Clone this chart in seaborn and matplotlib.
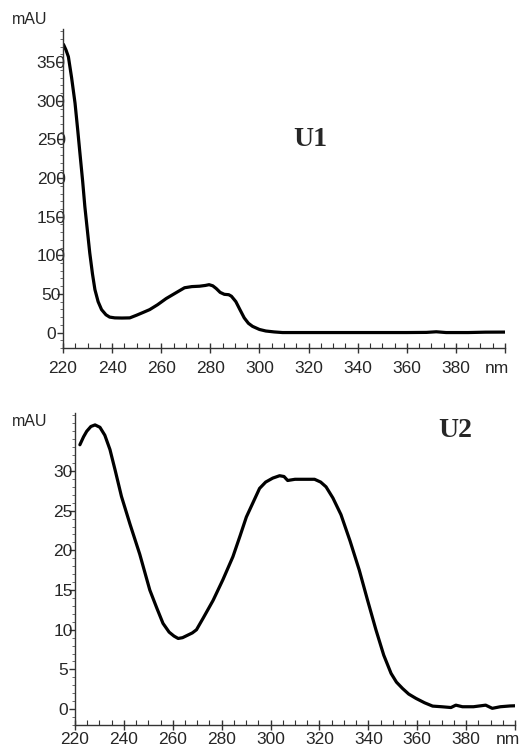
import numpy as np
import pandas as pd
import matplotlib
matplotlib.use("Agg")
import matplotlib.pyplot as plt
import matplotlib.transforms as mtransforms
import seaborn as sns
from matplotlib.ticker import MultipleLocator

# ---- data ----
u1_nm = [220.2, 221.2, 222.2, 223.5, 224.9, 226.0, 226.9, 228.0, 228.9, 230.0, 230.9, 232.0,
         233.0, 234.3, 235.7, 237.5, 239.0, 241.1, 244.0, 247.2, 250.0, 252.6, 255.3, 258.5,
         262.0, 266.8, 269.5, 272.5, 275.6, 278.0, 279.5, 281.0, 282.4, 284.0, 285.7, 287.5,
         288.6, 290.4, 292.0, 293.8, 295.5, 297.2, 300.0, 302.6, 306.0, 309.4, 320, 340,
         360, 368, 372, 376, 385, 392, 400]
u1_mau = [373, 366, 357, 330, 297, 262, 232, 196, 163, 130, 103, 76,
          55.6, 40, 29.7, 23, 20, 19, 18.8, 19, 22.5, 26, 29.7, 36,
          44, 53, 58, 59.5, 60, 61, 62, 60.5, 57, 52, 49.5, 49,
          47, 40, 30, 19, 12, 8, 4, 2, 0.8, 0, 0, 0,
          0, 0.2, 1, 0, 0, 0.5, 0.6]

u2_nm = [222.0, 223.5, 224.8, 226.5, 228.2, 230.2, 232.2, 234.3, 236.5, 239.0, 242.5, 246.5,
         250.6, 253.5, 256.0, 258.5, 260.5, 262.2, 264.0, 266.0, 268.0, 269.7, 272.5, 276.5,
         280.5, 284.6, 287.5, 290.1, 292.8, 295.5, 298.0, 300.9, 303.7, 305.5, 307.0, 310.0,
         318.0, 320.5, 322.7, 325.5, 328.8, 332.5, 336.3, 339.7, 343.1, 346.3, 349.3, 351.5,
         354.0, 356.5, 359.5, 363.0, 366.3, 370.0, 373.8, 375.8, 378.5, 383.0, 388.0, 390.7,
         394.0, 398.0, 400.0]
u2_mau = [33.3, 34.3, 35.0, 35.6, 35.8, 35.5, 34.5, 32.7, 30.0, 26.8, 23.3, 19.5,
          15.0, 12.7, 10.8, 9.7, 9.2, 8.9, 9.0, 9.3, 9.6, 10.0, 11.5, 13.7,
          16.3, 19.2, 21.8, 24.2, 26.0, 27.8, 28.6, 29.1, 29.4, 29.3, 28.8, 28.95,
          28.95, 28.6, 28.0, 26.6, 24.5, 21.2, 17.5, 13.7, 10.0, 6.8, 4.5, 3.4,
          2.6, 1.9, 1.35, 0.8, 0.38, 0.3, 0.2, 0.5, 0.3, 0.3, 0.5, 0.1,
          0.3, 0.4, 0.42]

x_ticks = [220, 240, 260, 280, 300, 320, 340, 360, 380, 400]
x_ticklabels = ["220", "240", "260", "280", "300", "320", "340", "360", "380", "nm"]
u1_yticks = [0, 50, 100, 150, 200, 250, 300, 350]
u2_yticks = [0, 5, 10, 15, 20, 25, 30]

sns.set_style("ticks")
plt.rcParams["font.family"] = ["Liberation Sans", "DejaVu Sans"]

W, H = 525, 753
fig = plt.figure(figsize=(W / 100, H / 100), dpi=100)

def make_axes(l, t, r, b):
    return fig.add_axes([l / W, 1 - b / H, (r - l) / W, (b - t) / H])

ax1 = make_axes(63, 29, 505, 348)
ax2 = make_axes(75, 413, 515, 725)

df1 = pd.DataFrame({"nm": u1_nm, "mAU": u1_mau})
df2 = pd.DataFrame({"nm": u2_nm, "mAU": u2_mau})
sns.lineplot(data=df1, x="nm", y="mAU", ax=ax1, color="black", linewidth=2.3, sort=False)
sns.lineplot(data=df2, x="nm", y="mAU", ax=ax2, color="black", linewidth=2.3, sort=False)
for ax in (ax1, ax2):
    for ln in ax.get_lines():
        ln.set_solid_joinstyle("round")
        ln.set_solid_capstyle("round")

def style(ax, yticks, ylim, yminor, xlabel_pad, nm_shift):
    ax.set_xlim(220, 400)
    ax.set_ylim(*ylim)
    ax.set_xlabel("")
    ax.set_ylabel("")
    for s in ["top", "right"]:
        ax.spines[s].set_visible(False)
    for s in ["left", "bottom"]:
        ax.spines[s].set_linewidth(1.0)
        ax.spines[s].set_color("#333333")
    ax.set_xticks(x_ticks)
    ax.set_xticklabels(x_ticklabels)
    ax.set_yticks(yticks)
    ax.set_yticklabels([str(v) for v in yticks])
    ax.xaxis.set_minor_locator(MultipleLocator(5))
    ax.yaxis.set_minor_locator(MultipleLocator(yminor))
    ax.tick_params(axis="x", which="major", direction="inout", length=7, width=1,
                   labelsize=12.5, pad=xlabel_pad, color="#333333")
    ax.tick_params(axis="x", which="minor", direction="in", length=3.5, width=0.8,
                   color="#333333")
    ax.tick_params(axis="y", which="major", direction="out", length=4, width=1,
                   labelsize=12.5, pad=4.5, color="#333333")
    ax.tick_params(axis="y", which="minor", direction="out", length=2, width=0.6,
                   color="#555555")
    for lab in ax.get_yticklabels():
        lab.set_horizontalalignment("center")
    last = ax.get_xticklabels()[-1]
    last.set_transform(last.get_transform() +
                       mtransforms.ScaledTranslation(-nm_shift / 100, 0, fig.dpi_scale_trans))

style(ax1, u1_yticks, (-20, 393), 10, 6, 8)
style(ax2, u2_yticks, (-2.0, 37.3), 1, 1.5, 7)

fig.text(30 / W, 1 - 19 / H, "mAU", ha="center", va="center", fontsize=11.5)
fig.text(30 / W, 1 - 422 / H, "mAU", ha="center", va="center", fontsize=11.5)
fig.text(310 / W, 1 - 140 / H, "U1", ha="center", va="center", fontsize=20,
         fontweight="bold", family=["Liberation Serif", "DejaVu Serif"])
fig.text(455 / W, 1 - 430 / H, "U2", ha="center", va="center", fontsize=20,
         fontweight="bold", family=["Liberation Serif", "DejaVu Serif"])

fig.savefig("out.png", dpi=100, facecolor="white")
